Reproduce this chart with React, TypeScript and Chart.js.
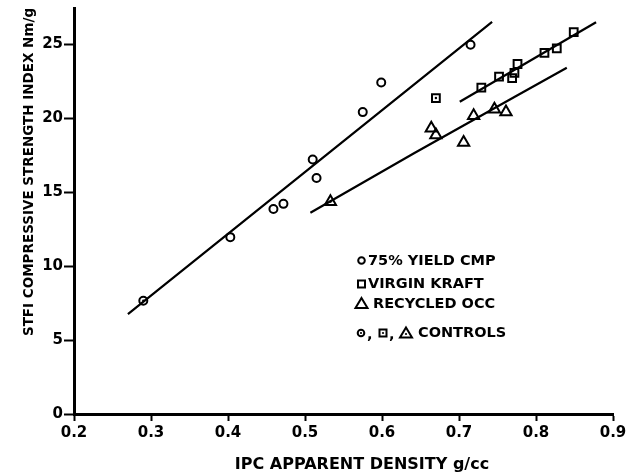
import React, { useEffect, useRef } from "react";
import { Chart, registerables } from "chart.js";

Chart.register(...registerables);

// ---- data ----
const cmpX = [0.29, 0.403, 0.459, 0.472, 0.51, 0.515, 0.575, 0.599, 0.715];
const cmpY = [7.65, 11.95, 13.85, 14.2, 17.2, 15.95, 20.4, 22.4, 24.95];

const kraftX = [0.67, 0.729, 0.752, 0.769, 0.772, 0.776, 0.811, 0.827, 0.849];
const kraftY = [21.35, 22.05, 22.8, 22.7, 23.05, 23.65, 24.4, 24.7, 25.8];

const occX = [0.533, 0.664, 0.67, 0.706, 0.719, 0.746, 0.761];
const occY = [14.35, 19.3, 18.85, 18.35, 20.15, 20.6, 20.4];

const controlX = [0.29, 0.533, 0.67];
const controlY = [7.65, 14.35, 21.35];

const cmpLineX = [0.27, 0.743];
const cmpLineY = [6.75, 26.5];
const kraftLineX = [0.701, 0.878];
const kraftLineY = [21.1, 26.47];
const occLineX = [0.507, 0.641, 0.84];
const occLineY = [13.6, 17.6, 23.4];

const xTickValues = [0.2, 0.3, 0.4, 0.5, 0.6, 0.7, 0.8, 0.9];
const yTickValues = [0, 5, 10, 15, 20, 25];

const legendLabels = ["75% YIELD CMP", "VIRGIN KRAFT", "RECYCLED OCC", "CONTROLS"];
const xTitle = "IPC APPARENT DENSITY g/cc";
const yTitle = "STFI COMPRESSIVE STRENGTH INDEX Nm/g";

const pts = (xs: number[], ys: number[]) => xs.map((x, i) => ({ x, y: ys[i] }));

const FONT = "'DejaVu Sans', sans-serif";

function drawMarker(ctx: CanvasRenderingContext2D, kind: string, x: number, y: number, dot: boolean) {
  ctx.save();
  ctx.strokeStyle = "#000";
  ctx.lineWidth = 2;
  ctx.beginPath();
  if (kind === "circle") {
    ctx.arc(x, y, 3.3, 0, Math.PI * 2);
  } else if (kind === "rect") {
    ctx.rect(x - 3.5, y - 3.5, 7, 7);
  } else {
    ctx.moveTo(x, y - 5.5);
    ctx.lineTo(x + 6, y + 4.5);
    ctx.lineTo(x - 6, y + 4.5);
    ctx.closePath();
  }
  ctx.stroke();
  if (dot) {
    ctx.fillStyle = "#000";
    ctx.beginPath();
    ctx.arc(x, kind === "triangle" ? y + 1 : y, 1.1, 0, Math.PI * 2);
    ctx.fill();
  }
  ctx.restore();
}

const annotPlugin = {
  id: "annot",
  afterDraw(chart: any) {
    const ctx: CanvasRenderingContext2D = chart.ctx;
    ctx.save();
    ctx.fillStyle = "#000";
    // x title
    ctx.font = `bold 16px ${FONT}`;
    ctx.textAlign = "center";
    ctx.textBaseline = "middle";
    ctx.fillText(xTitle, 362, 465);
    // y title
    ctx.save();
    ctx.translate(29, 172);
    ctx.rotate(-Math.PI / 2);
    ctx.font = `bold 13.5px ${FONT}`;
    ctx.fillText(yTitle, 0, 0);
    ctx.restore();
    // legend
    ctx.font = `bold 14.5px ${FONT}`;
    ctx.textAlign = "left";
    drawMarker(ctx, "circle", 361.5, 260.5, false);
    ctx.fillText(legendLabels[0], 368, 261);
    drawMarker(ctx, "rect", 361.5, 284, false);
    ctx.fillText(legendLabels[1], 368, 284.5);
    drawMarker(ctx, "triangle", 361.5, 303.5, false);
    ctx.fillText(legendLabels[2], 373, 304);
    drawMarker(ctx, "circle", 361, 333, true);
    ctx.fillText(",", 367, 335);
    drawMarker(ctx, "rect", 383, 333, true);
    ctx.fillText(",", 389, 335);
    drawMarker(ctx, "triangle", 406, 333, true);
    ctx.fillText(legendLabels[3], 418, 333.5);
    ctx.restore();
  },
};

export default function App() {
  const ref = useRef<HTMLCanvasElement>(null);
  useEffect(() => {
    if (!ref.current) return;
    const lineDs = (xs: number[], ys: number[]) => ({
      type: "line" as const,
      data: pts(xs, ys),
      borderColor: "#000",
      borderWidth: 2.2,
      pointRadius: 0,
      showLine: true,
      fill: false,
      tension: 0.3,
      cubicInterpolationMode: "monotone" as const,
    });
    const ptDs = (xs: number[], ys: number[], style: string, r: number) => ({
      type: "scatter" as const,
      data: pts(xs, ys),
      pointStyle: style,
      pointRadius: r,
      pointBorderWidth: 2,
      pointBorderColor: "#000",
      pointBackgroundColor: "rgba(255,255,255,0)",
      showLine: false,
    });
    const chart = new Chart(ref.current, {
      type: "scatter",
      data: {
        datasets: [
          lineDs(cmpLineX, cmpLineY),
          lineDs(kraftLineX, kraftLineY),
          lineDs(occLineX, occLineY),
          ptDs(cmpX, cmpY, "circle", 4),
          ptDs(kraftX, kraftY, "rect", 5.5),
          ptDs(occX, occY, "triangle", 6.5),
          {
            type: "scatter" as const,
            data: pts(controlX, controlY),
            pointStyle: "circle",
            pointRadius: 1.2,
            pointBorderWidth: 0,
            pointBackgroundColor: "#000",
            showLine: false,
          },
        ] as any,
      },
      options: {
        animation: false,
        responsive: false,
        devicePixelRatio: 1,
        layout: { padding: { left: 0, right: 22, top: 5, bottom: 0 } },
        plugins: { legend: { display: false }, tooltip: { enabled: false }, title: { display: false } },
        scales: {
          x: {
            type: "linear",
            min: 0.2,
            max: 0.9,
            afterFit: (s: any) => {
              s.height = 61;
              s.paddingLeft = 0;
              s.paddingRight = 0;
            },
            afterBuildTicks: (s: any) => {
              s.ticks = xTickValues.map((v) => ({ value: v }));
            },
            ticks: {
              color: "#000",
              font: { family: FONT, weight: "bold", size: 15 },
              padding: 3,
              maxRotation: 0,
              autoSkip: false,
              callback: (v: any) => Number(v).toFixed(1),
            },
            grid: { drawOnChartArea: false, drawTicks: true, tickLength: 7, tickWidth: 2, tickColor: "#000" },
            border: { display: true, color: "#000", width: 3 },
          },
          y: {
            type: "linear",
            min: 0,
            max: 27.4,
            afterFit: (s: any) => {
              s.width = 74;
              s.paddingTop = 0;
              s.paddingBottom = 0;
            },
            afterBuildTicks: (s: any) => {
              s.ticks = yTickValues.map((v) => ({ value: v }));
            },
            ticks: {
              color: "#000",
              font: { family: FONT, weight: "bold", size: 15 },
              padding: 1,
              autoSkip: false,
              callback: (v: any) => String(v),
            },
            grid: { drawOnChartArea: false, drawTicks: true, tickLength: 10, tickWidth: 2, tickColor: "#000" },
            border: { display: true, color: "#000", width: 3 },
          },
        },
      } as any,
      plugins: [annotPlugin],
    });
    return () => chart.destroy();
  }, []);
  return (
    <div style={{ position: "fixed", left: 0, top: 0, width: 635, height: 475, background: "#fff" }}>
      <canvas ref={ref} width={635} height={475} />
    </div>
  );
}
